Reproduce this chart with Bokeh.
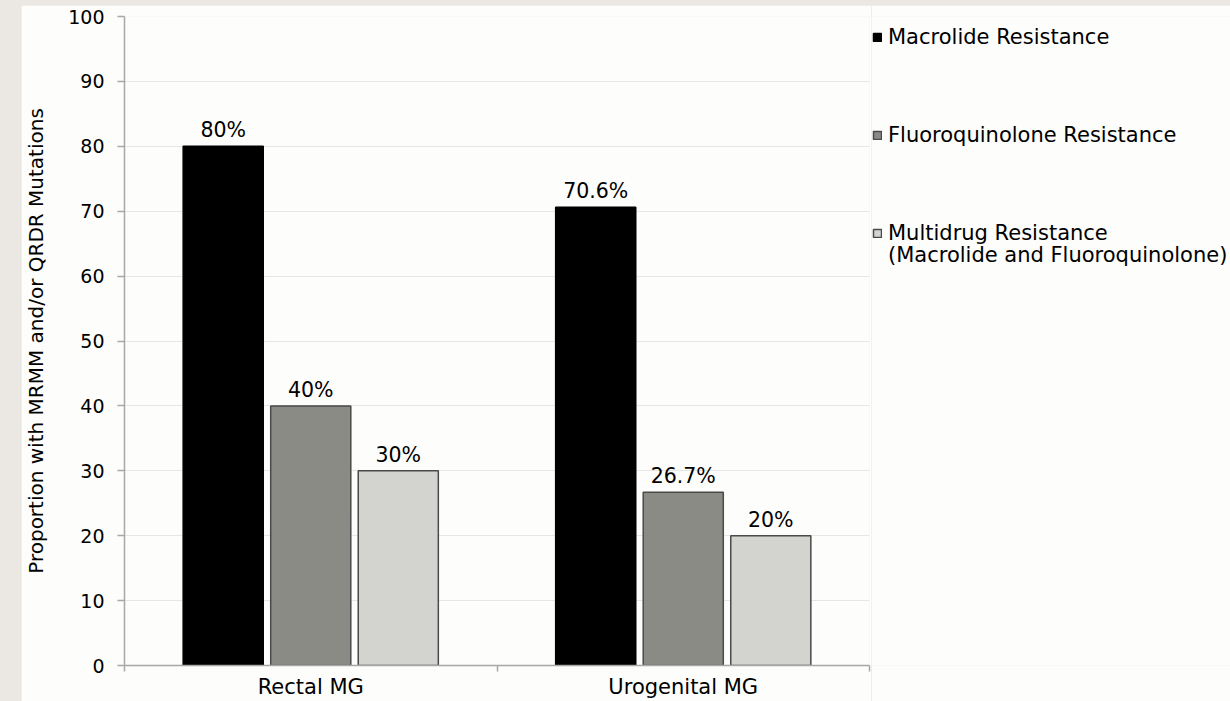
import numpy as np
from bokeh.plotting import figure
from bokeh.models import (ColumnDataSource, Range1d, FixedTicker, Legend, LegendItem,
                          Row)
from bokeh.core.properties import value
from bokeh.embed import file_html
from bokeh.resources import INLINE

# ---- data ----
categories = ["Rectal MG", "Urogenital MG"]
series_names = ["Macrolide Resistance", "Fluoroquinolone Resistance",
                "Multidrug Resistance"]
series_note = "(Macrolide and Fluoroquinolone)"
macrolide = [80, 70.6]
fluoroquinolone = [40, 26.7]
multidrug = [30, 20]
y_ticks = [0, 10, 20, 30, 40, 50, 60, 70, 80, 90, 100]

series_values = [macrolide, fluoroquinolone, multidrug]
fills = ["#000000", "#8b8b86", "#d3d3d0"]
lines = ["#000000", "#4a4a4a", "#4a4a4a"]
offsets = [-0.235, 0.0, 0.235]
bar_w = 0.215

FONT = "DejaVu Sans"
BG = "#fdfdfb"
AXC = "#a8a8a8"

p = figure(width=850, height=696, output_backend="svg", toolbar_location=None,
           x_range=Range1d(0, len(categories)), y_range=Range1d(0, 100),
           min_border_left=103, min_border_right=2, min_border_top=11,
           min_border_bottom=35, background_fill_color=BG, border_fill_color=BG,
           outline_line_color=None)
p.margin = (5, 0, 0, 21)

centers = np.arange(len(categories)) + 0.5
sources = []
for name, vals, fc, lc, off in zip(series_names, series_values, fills, lines, offsets):
    src = ColumnDataSource(dict(x=centers + off, top=vals,
                                lab=[f"{v:g}%" for v in vals]))
    sources.append(src)
    p.vbar(x="x", top="top", width=bar_w, source=src, fill_color=fc,
           line_color=lc, line_width=1.5)
    p.text(x="x", y="top", text="lab", source=src, text_align="center",
           text_baseline="bottom", y_offset=-4, text_font_size="20.5px",
           text_font=value(FONT), text_color="#000000")

# axes
xa = p.xaxis[0]
xa.ticker = FixedTicker(ticks=list(centers), minor_ticks=list(range(len(categories) + 1)))
xa.major_label_overrides = {float(c): cat for c, cat in zip(centers, categories)}
xa.major_tick_line_color = None
xa.major_tick_out = 0
xa.minor_tick_out = 6
xa.minor_tick_in = 0
xa.minor_tick_line_color = AXC
xa.minor_tick_line_width = 1.5
xa.axis_line_color = AXC
xa.axis_line_width = 1.5
xa.major_label_standoff = 3
xa.major_label_text_font = FONT
xa.major_label_text_font_size = "21px"
xa.major_label_text_color = "#000000"

ya = p.yaxis[0]
ya.ticker = FixedTicker(ticks=y_ticks)
ya.minor_tick_line_color = None
ya.major_tick_out = 7
ya.major_tick_in = 0
ya.major_tick_line_color = AXC
ya.major_tick_line_width = 1.5
ya.axis_line_color = AXC
ya.axis_line_width = 1.5
ya.major_label_standoff = 13
ya.major_label_text_font = FONT
ya.major_label_text_font_size = "19px"
ya.major_label_text_color = "#000000"
ya.axis_label = "Proportion with MRMM and/or QRDR Mutations"
ya.axis_label_text_font = FONT
ya.axis_label_text_font_size = "20px"
ya.axis_label_text_font_style = "normal"
ya.axis_label_text_color = "#000000"
ya.axis_label_standoff = 17

p.xgrid.grid_line_color = None
p.ygrid.grid_line_color = "#e6e6e6"
p.ygrid.grid_line_width = 1

# ---- legend panel (separate figure to the right of the chart) ----
pl = figure(width=359, height=696, output_backend="svg", toolbar_location=None,
            x_range=Range1d(0, 1), y_range=Range1d(0, 1), min_border=0,
            x_axis_location=None, y_axis_location=None, outline_line_color=None,
            background_fill_color=BG, border_fill_color=BG)
pl.grid.visible = False
pl.margin = (5, 0, 0, 0)

items = []
for name, src, fc, lc in zip(series_names, sources, fills, lines):
    r = pl.vbar(x="x", top="top", width=bar_w, source=src, fill_color=fc,
                line_color=lc, line_width=1.5, visible=False)
    items.append(LegendItem(label=name, renderers=[r]))
dummy = pl.vbar(x="x", top="top", width=bar_w, source=sources[2], fill_alpha=0,
                line_alpha=0, visible=False)

common = dict(margin=0, padding=0, border_line_color=None, background_fill_alpha=0,
              label_text_font=FONT, label_text_font_size="21px",
              label_text_color="#000000", glyph_width=10, glyph_height=10,
              label_standoff=6, label_height=28, inactive_fill_alpha=0)
legend = Legend(items=items, location=(1, 418), spacing=70, **common)
pl.add_layout(legend)
legend2 = Legend(items=[LegendItem(label=series_note, renderers=[dummy])],
                 location=(1, 396), **common)
pl.add_layout(legend2)

page = Row(p, pl, styles={"background-color": "#ebe8e3"})
open("out.html", "w").write(file_html(page, INLINE))
